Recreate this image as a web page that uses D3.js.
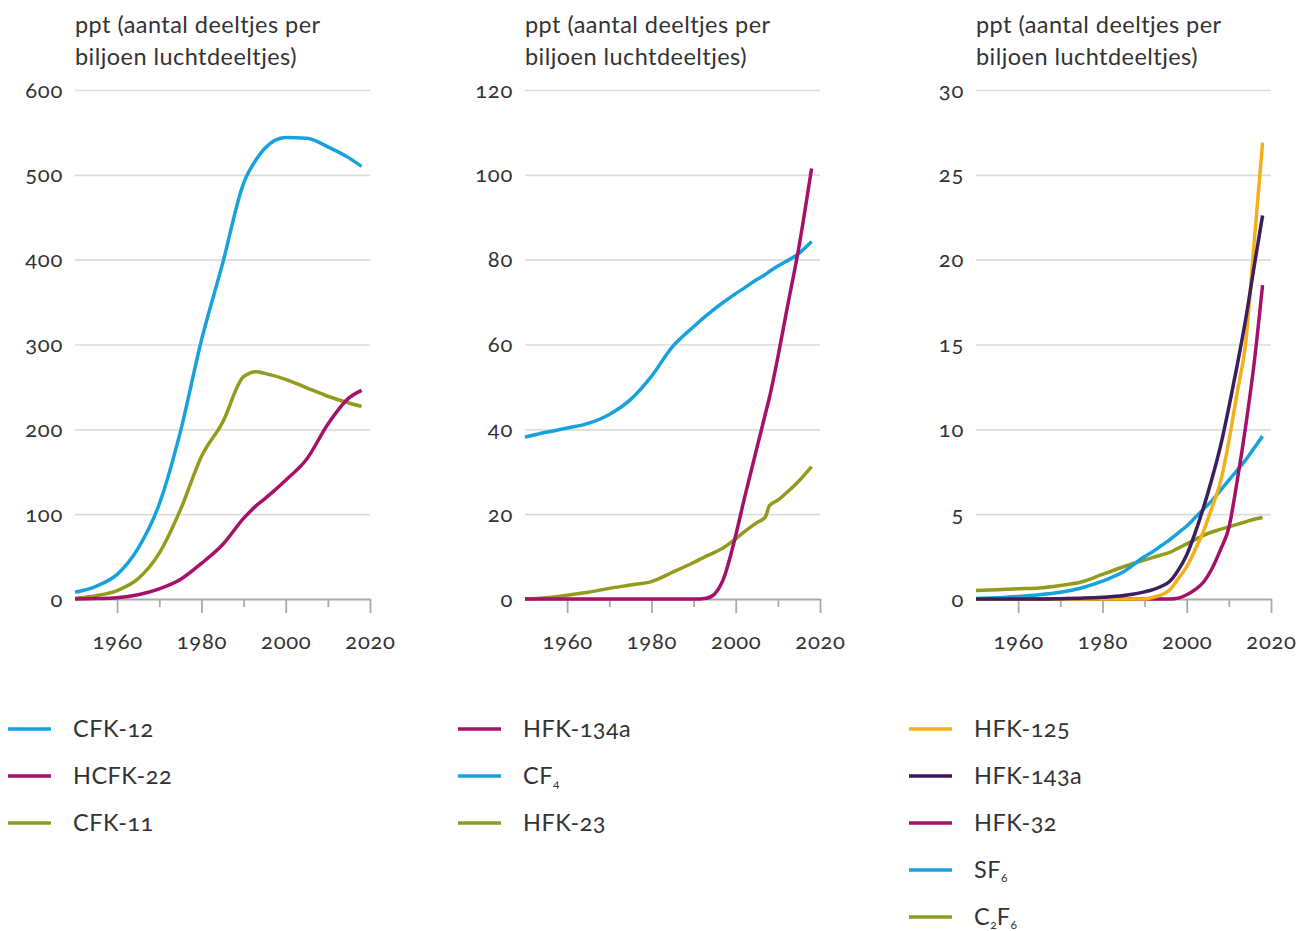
<!DOCTYPE html>
<html>
<head>
<meta charset="utf-8">
<script src="https://cdn.jsdelivr.net/npm/d3@7"></script>
<style>
  html, body { margin: 0; padding: 0; background: #fff; }
  svg text { font-family: Lato, "Open Sans", sans-serif; fill: #333; font-variant-numeric: oldstyle-nums; font-feature-settings: "onum"; }
</style>
</head>
<body>
<svg id="chart" width="1301" height="931"></svg>
<script>
// ---------- data ----------
const titleLines = ["ppt (aantal deeltjes per", "biljoen luchtdeeltjes)"];
const majorYears = [1960, 1980, 2000, 2020];
const minorYears = [1970, 1990, 2010];

// Panel 1
const years1 = [1950,1955,1960,1965,1970,1975,1980,1985,1990,1993,1995,2000,2005,2010,2015,2018];
const cfk12  = [8,15,29,60,112,197,305,395,490,518,531,544,543,533,520,510];
const hcfk22 = [0,0.5,1.5,5,12,23,42,64,95,110,118,140,165,206,237,246];
const cfk11  = [1,4,10,24,54,105,168,208,262,268,266,259,249,239,231,227];
const yTicks1 = [0,100,200,300,400,500,600];

// Panel 2
const years2 = [1950,1955,1960,1965,1970,1975,1980,1985,1990,1993,1995,1997,2000,2002,2005,2007,2008,2010,2012,2015,2018];
const hfk134a = [0,0,0,0,0,0,0,0,0,0.2,1.2,4.5,15,23.5,35.5,43.5,47.5,57,67.5,83,101.5];
const cf4     = [38.2,39.3,40.3,41.4,43.5,47,52.5,59.5,64.2,66.8,68.4,69.9,72,73.3,75.3,76.5,77.2,78.5,79.6,81.5,84.3];
const hfk23   = [0,0.3,0.9,1.6,2.5,3.3,4.1,6.3,8.6,10.1,11,12,14.2,15.8,18,19.3,22,23.3,25,27.8,31.2];
const yTicks2 = [0,20,40,60,80,100,120];

// Panel 3
const years3 = [1950,1955,1960,1965,1970,1975,1980,1985,1990,1992,1994,1996,1998,2000,2002,2004,2006,2008,2010,2012,2014,2016,2018];
const hfk125  = [0,0,0,0,0,0,0,0,0,0.1,0.25,0.55,1.2,1.9,2.9,4.0,5.4,6.9,9.3,12.2,15.1,21.0,26.9];
const hfk143a = [0,0,0,0,0.02,0.05,0.1,0.2,0.42,0.55,0.75,1.05,1.7,2.6,3.9,5.4,7.1,9.0,11.3,13.8,16.5,19.6,22.6];
const hfk32   = [0,0,0,0,0,0,0,0,0,0,0,0,0.05,0.25,0.55,1.0,1.8,2.9,4.2,7.0,10.2,13.9,18.5];
const sf6     = [0.03,0.08,0.15,0.25,0.4,0.65,1.05,1.6,2.5,2.8,3.15,3.5,3.9,4.3,4.8,5.3,5.8,6.4,7.0,7.6,8.2,8.9,9.6];
const c2f6    = [0.5,0.55,0.6,0.65,0.8,1.0,1.45,1.9,2.3,2.45,2.6,2.75,3.0,3.25,3.5,3.75,3.95,4.1,4.25,4.4,4.55,4.7,4.8];
const yTicks3 = [0,5,10,15,20,25,30];

const colors = {
  blue: "#17a2de",
  magenta: "#a5106b",
  olive: "#939b1c",
  yellow: "#f3b01a",
  purple: "#3e1d5f"
};

// ---------- build panels ----------
const panels = [
  {
    left: 75, years: years1, yMax: 600, yTicks: yTicks1,
    series: [
      { name: "CFK-12", values: cfk12, color: colors.blue },
      { name: "HCFK-22", values: hcfk22, color: colors.magenta },
      { name: "CFK-11", values: cfk11, color: colors.olive }
    ],
    drawOrder: [0, 2, 1]
  },
  {
    left: 525, years: years2, yMax: 120, yTicks: yTicks2,
    series: [
      { name: "HFK-134a", values: hfk134a, color: colors.magenta },
      { name: "CF_4", values: cf4, color: colors.blue },
      { name: "HFK-23", values: hfk23, color: colors.olive }
    ],
    drawOrder: [1, 2, 0]
  },
  {
    left: 976, years: years3, yMax: 30, yTicks: yTicks3,
    series: [
      { name: "HFK-125", values: hfk125, color: colors.yellow },
      { name: "HFK-143a", values: hfk143a, color: colors.purple },
      { name: "HFK-32", values: hfk32, color: colors.magenta },
      { name: "SF_6", values: sf6, color: colors.blue },
      { name: "C_2F_6", values: c2f6, color: colors.olive }
    ],
    drawOrder: [4, 3, 2, 0, 1]
  }
];

const svg = d3.select("#chart");
const plotW = 295, plotTop = 90, plotBottom = 599;
const labelFont = 23.5, tickFont = 22;

function addRichText(sel, label) {
  // parse "_x" subscripts
  const parts = label.split(/(_\d)/).filter(s => s.length);
  let prevSub = false;
  parts.forEach(p => {
    if (p.startsWith("_")) {
      sel.append("tspan").attr("font-size", 12).attr("dy", 4).attr("letter-spacing", 0).text(p.slice(1));
      prevSub = true;
    } else {
      const t = sel.append("tspan").text(p);
      if (prevSub) t.attr("dy", -4);
      prevSub = false;
    }
  });
}

panels.forEach(p => {
  const g = svg.append("g").attr("transform", `translate(${p.left},0)`);
  const x = d3.scaleLinear().domain([1950, 2020]).range([0, plotW]);
  const y = d3.scaleLinear().domain([0, p.yMax]).range([plotBottom, plotTop]);

  // title
  titleLines.forEach((t, i) => {
    g.append("text").attr("x", 0).attr("y", 33 + i * 32)
      .attr("font-size", labelFont).attr("letter-spacing", 0.45).text(t);
  });

  // y gridlines + labels
  const yAxis = d3.axisLeft(y).tickValues(p.yTicks).tickSize(-plotW).tickPadding(12)
    .tickFormat(d3.format("d"));
  const yg = g.append("g").call(yAxis);
  yg.select(".domain").remove();
  yg.selectAll(".tick line").attr("stroke", "#dcdcdc").attr("stroke-width", 1.6)
    .filter(d => d === 0).remove();
  yg.selectAll(".tick text").attr("font-size", tickFont).attr("fill", "#333")
    .attr("letter-spacing", 0.7)
    .style("font-family", "Lato, 'Open Sans', sans-serif");

  // x axis
  const xMajor = d3.axisBottom(x).tickValues(majorYears).tickSize(14).tickSizeOuter(0)
    .tickPadding(20).tickFormat(d3.format("d"));
  const xg = g.append("g").attr("transform", `translate(0,${plotBottom})`).call(xMajor);
  xg.select(".domain").attr("stroke", "#aaa").attr("stroke-width", 1.8);
  xg.selectAll(".tick line").attr("stroke", "#aaa").attr("stroke-width", 1.8);
  xg.selectAll(".tick text").attr("font-size", tickFont).attr("fill", "#333")
    .attr("letter-spacing", 0.7)
    .style("font-family", "Lato, 'Open Sans', sans-serif");
  const xMinor = d3.axisBottom(x).tickValues(minorYears).tickSize(8).tickSizeOuter(0).tickFormat("");
  const xm = g.append("g").attr("transform", `translate(0,${plotBottom})`).call(xMinor);
  xm.select(".domain").remove();
  xm.selectAll(".tick line").attr("stroke", "#aaa").attr("stroke-width", 1.8);

  // lines
  const line = d3.line()
    .x((d, i) => x(p.years[i]))
    .y(d => y(d))
    .curve(d3.curveMonotoneX);
  p.drawOrder.forEach(idx => {
    const s = p.series[idx];
    g.append("path").datum(s.values)
      .attr("fill", "none")
      .attr("stroke", s.color)
      .attr("stroke-width", 3.5)
      .attr("stroke-linejoin", "round")
      .attr("stroke-linecap", "butt")
      .attr("d", line);
  });

  // legend
  const lg = g.append("g");
  p.series.forEach((s, i) => {
    const cy = 729 + i * 47;
    lg.append("line").attr("x1", -67).attr("x2", -24).attr("y1", cy).attr("y2", cy)
      .attr("stroke", s.color).attr("stroke-width", 3.5);
    const t = lg.append("text").attr("x", -2).attr("y", cy + 8)
      .attr("font-size", labelFont).attr("letter-spacing", 0.45);
    addRichText(t, s.name);
  });
});
</script>
</body>
</html>
